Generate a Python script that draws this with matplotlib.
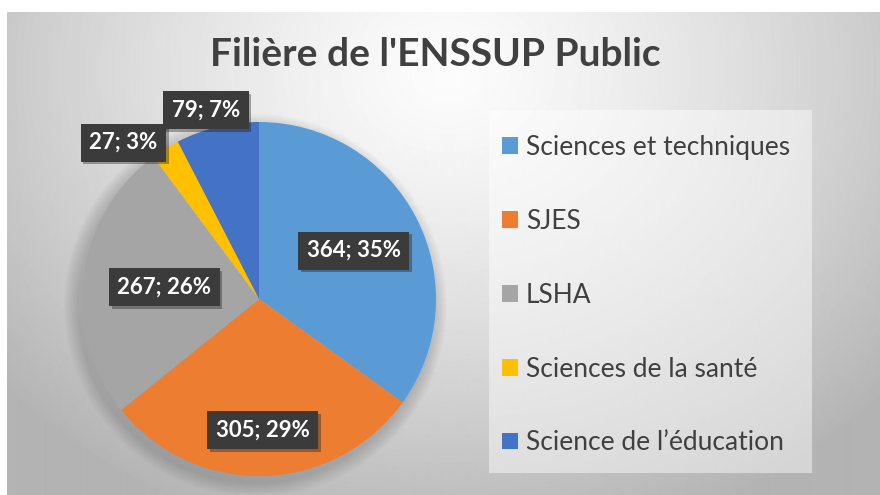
import numpy as np
import matplotlib
matplotlib.use("Agg")
import matplotlib.pyplot as plt
import matplotlib.patheffects as pe
from matplotlib.patches import Rectangle, Circle

plt.rcParams['font.family'] = ['Lato', 'DejaVu Sans']

# données
TITLE = "Filière de l'ENSSUP Public"
CATEGORIES = ["Sciences et techniques", "SJES", "LSHA",
              "Sciences de la santé", "Science de l\u2019éducation"]
VALUES = [364, 305, 267, 27, 79]
PERCENTS = [35, 29, 26, 3, 7]
COLORS = ["#5B9BD5", "#ED7D31", "#A5A5A5", "#FFC000", "#4472C4"]

# placement des étiquettes : fraction du rayon, décalage d'angle (degrés)
LABEL_R = [0.60, 0.74, 0.54, 1.17, 1.11]
LABEL_DA = [0, 0, 0, 9, 2]

W, H = 880, 495
fig = plt.figure(figsize=(W / 100, H / 100), dpi=100)
fig.patch.set_facecolor("white")

# fond dégradé de la zone graphique
bg = fig.add_axes([7 / W, 0, 1 - 7 / W, 1 - 12 / H])
bg.set_axis_off()
yy, xx = np.mgrid[0:483, 0:873]
d = np.sqrt(((xx - 440) / 520.0) ** 2 + ((yy - 60) / 430.0) ** 2)
shade = np.clip(252 - 62 * d ** 1.3, 180, 252) / 255.0
bg.imshow(shade, cmap="gray", vmin=0, vmax=1, aspect="auto", interpolation="bilinear")

# cadre de la légende
fig.patches.append(Rectangle((489 / W, 1 - 473 / H), (812 - 489) / W, (473 - 110) / H,
                             transform=fig.transFigure, facecolor="white",
                             alpha=0.45, edgecolor="none", zorder=1))

# camembert
cx, cy, R = 259, H - 299, 177
half = 195
ax = fig.add_axes([(cx - half) / W, (cy - half) / H, 2 * half / W, 2 * half / H])
ax.set_axis_off()
# ombre douce (bas-gauche)
for k in range(1, 11):
    ax.add_patch(Circle((-0.02, -0.035), 1.0 + 0.008 * k, facecolor="black",
                        edgecolor="none", alpha=0.016, zorder=0))
wedges, _ = ax.pie(VALUES, colors=COLORS, startangle=90, counterclock=False,
                   radius=1.0, wedgeprops=dict(linewidth=0, zorder=2))
lim = half / R
ax.set_xlim(-lim, lim)
ax.set_ylim(-lim, lim)
ax.set_aspect("equal")

for w, v, p, r, da in zip(wedges, VALUES, PERCENTS, LABEL_R, LABEL_DA):
    ang = np.deg2rad((w.theta1 + w.theta2) / 2 + da)
    t = ax.text(r * np.cos(ang), r * np.sin(ang), f"{v}; {p}%",
                ha="center", va="center", color="white", fontsize=16,
                fontweight="bold", zorder=5,
                bbox=dict(boxstyle="square,pad=0.38", facecolor="#3b3b3b",
                          edgecolor="none"))
    t.get_bbox_patch().set_path_effects(
        [pe.SimplePatchShadow(offset=(2, -2), alpha=0.35), pe.Normal()])

fig.text(0.495, 1 - 55 / H, TITLE, ha="center", va="center",
         fontsize=28, fontweight="bold", color="#404040")

leg = fig.legend(wedges, CATEGORIES, loc="upper left",
                 bbox_to_anchor=(477 / W, 1 - 110 / H), borderaxespad=0,
                 fontsize=19, labelcolor="#404040", frameon=False,
                 handlelength=0.6, handleheight=0.6, handletextpad=0.3,
                 labelspacing=1.85, borderpad=0.95)

fig.savefig("out.png", dpi=100)
